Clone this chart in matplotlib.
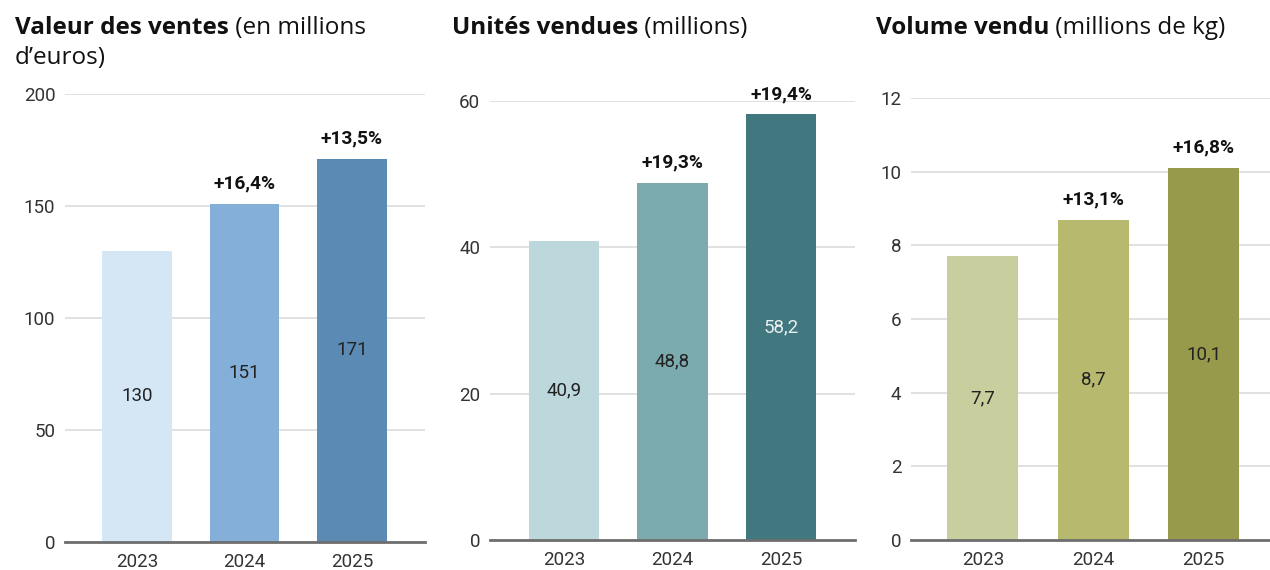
import matplotlib.pyplot as plt

years = ["2023", "2024", "2025"]

ventes = [130, 151, 171]
ventes_lbl = ["130", "151", "171"]
ventes_pct = ["", "+16,4%", "+13,5%"]

unites = [40.9, 48.8, 58.2]
unites_lbl = ["40,9", "48,8", "58,2"]
unites_pct = ["", "+19,3%", "+19,4%"]

volume = [7.7, 8.7, 10.1]
volume_lbl = ["7,7", "8,7", "10,1"]
volume_pct = ["", "+13,1%", "+16,8%"]

plt.rcParams['font.family'] = ['Roboto', 'DejaVu Sans']

fig = plt.figure(figsize=(12.7, 5.7), dpi=100)


def panel(rect, xlim, vals, lbls, pcts, colors, lblcolors, ymax, ystep):
    ax = fig.add_axes(rect)
    x = range(len(vals))
    ax.bar(x, vals, width=0.645, color=colors, zorder=2)
    ax.set_xlim(*xlim)
    ax.set_ylim(0, ymax)
    ax.set_yticks(range(0, ymax + 1, ystep))
    ax.set_xticks(list(x))
    ax.set_xticklabels(years)
    ax.grid(axis='y', color='#d9d9d9', linewidth=1.1, zorder=0)
    for s in ['top', 'right', 'left']:
        ax.spines[s].set_visible(False)
    ax.spines['bottom'].set_color('#6e6e6e')
    ax.spines['bottom'].set_linewidth(2)
    ax.spines['bottom'].set_zorder(3)
    ax.tick_params(length=0, labelsize=13.5, colors='#333333')
    ax.tick_params(axis='y', pad=7)
    ax.tick_params(axis='x', pad=8)
    for i, v in enumerate(vals):
        ax.text(i, v / 2, lbls[i], ha='center', va='center', fontsize=13.5,
                color=lblcolors[i], zorder=4)
        if pcts[i]:
            ax.annotate(pcts[i], (i, v), xytext=(0, 8), textcoords='offset points',
                        ha='center', va='bottom', fontsize=13.8, fontweight='bold',
                        color='#111111', annotation_clip=False)
    return ax


W, H = 1270, 570


def rect(l, r, b, t):
    return [l / W, 1 - b / H, (r - l) / W, (b - t) / H]


panel(rect(65, 425, 542, 94), (-0.67, 2.68), ventes, ventes_lbl, ventes_pct,
      ['#d5e6f5', '#84afd9', '#5b8bb5'], ['#222222'] * 3, 200, 50)
panel(rect(490, 855, 540, 101), (-0.68, 2.68), unites, unites_lbl, unites_pct,
      ['#bcd8dc', '#7babaf', '#41777f'], ['#222222', '#222222', '#e8f0f0'], 60, 20)
panel(rect(911, 1270, 540, 98), (-0.65, 2.6), volume, volume_lbl, volume_pct,
      ['#c8ce9e', '#b6b96e', '#979a4b'], ['#222222'] * 3, 12, 2)

tfont = ['Open Sans', 'DejaVu Sans']
titles = [
    (15, "Valeur des ventes", " (en millions", "d\u2019euros)"),
    (452, "Unit\u00e9s vendues", " (millions)", None),
    (876, "Volume vendu", " (millions de kg)", None),
]
for x0, bold, rest, line2 in titles:
    t = fig.text(x0 / W, 1 - 28 / H, bold, fontsize=17.5, fontweight='bold',
                 family=tfont, va='center', color='#111111')
    fig.canvas.draw()
    bb = t.get_window_extent()
    fig.text(bb.x1 / W, 1 - 28 / H, rest, fontsize=17.5, family=tfont,
             va='center', color='#111111')
    if line2:
        fig.text(x0 / W, 1 - 58 / H, line2, fontsize=17.5, family=tfont,
                 va='center', color='#111111')

fig.savefig('out.png', dpi=100)
